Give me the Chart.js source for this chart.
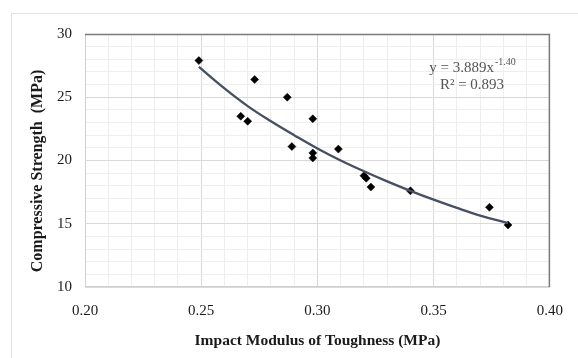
<!DOCTYPE html>
<html>
<head>
<meta charset="utf-8">
<script src="https://cdn.jsdelivr.net/npm/chart.js@4/dist/chart.umd.min.js"></script>
<style>
  html, body { margin: 0; padding: 0; background: #fff; }
  #wrap { width: 578px; height: 358px; position: relative; }
</style>
</head>
<body>
<div id="wrap"><canvas id="chart" width="578" height="358"></canvas></div>
<script>
// measured points (toughness, strength)
const toughness = [0.249, 0.273, 0.267, 0.270, 0.287, 0.298, 0.289, 0.298, 0.298, 0.309, 0.320, 0.321, 0.323, 0.340, 0.374, 0.382];
const strength  = [27.9, 26.4, 23.5, 23.1, 25.0, 23.3, 21.1, 20.6, 20.2, 20.9, 18.8, 18.6, 17.9, 17.6, 16.3, 14.9];

// power trend line
const trendX = [0.249, 0.26, 0.27, 0.28, 0.29, 0.30, 0.31, 0.32, 0.33, 0.34, 0.35, 0.36, 0.37, 0.382];
const trendY = [27.4, 25.7, 24.3, 23.1, 22.0, 20.95, 20.0, 19.15, 18.35, 17.6, 16.9, 16.25, 15.65, 15.05];

const xTickLabels = ['0.20', '0.25', '0.30', '0.35', '0.40'];
const yTickLabels = ['10', '15', '20', '25', '30'];

const xTitle = 'Impact Modulus of Toughness (MPa)';
const yTitle = 'Compressive Strength  (MPa)';
const eqText = 'y = 3.889x';
const eqPower = '-1.40';
const r2Text = 'R² = 0.893';

const serif = '"Liberation Serif", "Times New Roman", serif';

function labelFor(list, v) {
  const hit = list.find(l => Math.abs(parseFloat(l) - v) < 1e-6);
  return hit === undefined ? '' : hit;
}

const frame = {
  id: 'frame',
  beforeDraw(chart) {
    const c = chart.ctx;
    c.save();
    c.strokeStyle = '#e2e2e2';
    c.lineWidth = 1;
    c.strokeRect(11.5, 13.5, 700, 700);
    c.restore();
  },
  afterDatasetsDraw(chart) {
    const { ctx: c, chartArea: a } = chart;
    c.save();
    c.lineWidth = 1;
    c.strokeStyle = '#cfcfcf';
    c.beginPath();
    c.moveTo(a.left + 0.5, a.top);
    c.lineTo(a.left + 0.5, a.bottom - 0.5);
    c.lineTo(a.right, a.bottom - 0.5);
    c.stroke();
    c.strokeStyle = '#7a7a7a';
    c.lineWidth = 1.5;
    c.beginPath();
    c.moveTo(a.left, a.top + 0.5);
    c.lineTo(a.right - 0.5, a.top + 0.5);
    c.lineTo(a.right - 0.5, a.bottom);
    c.stroke();

    // y axis title, sits a little below the centre in the original
    c.fillStyle = '#1a1a1a';
    c.font = 'bold 16px ' + serif;
    c.textAlign = 'center';
    c.textBaseline = 'middle';
    c.translate(38, 171);
    c.rotate(-Math.PI / 2);
    c.fillText(yTitle, 0, 0);
    c.setTransform(1, 0, 0, 1, 0, 0);

    // equation label
    c.fillStyle = '#555';
    c.textBaseline = 'alphabetic';
    c.font = '15px ' + serif;
    const w1 = c.measureText(eqText).width;
    c.font = '10px ' + serif;
    const w2 = c.measureText(eqPower).width;
    const cx = 472;
    let x0 = cx - (w1 + w2) / 2;
    c.font = '15px ' + serif;
    c.textAlign = 'left';
    c.fillText(eqText, x0, 72);
    c.font = '10px ' + serif;
    c.fillText(eqPower, x0 + w1 + 1, 65);
    c.font = '15px ' + serif;
    c.textAlign = 'center';
    c.fillText(r2Text, cx, 89);
    c.restore();
  }
};

const ctx = document.getElementById('chart').getContext('2d');
new Chart(ctx, {
  type: 'scatter',
  data: {
    datasets: [
      {
        label: 'Trend',
        data: trendX.map((x, i) => ({ x, y: trendY[i] })),
        showLine: true,
        borderColor: '#475062',
        borderWidth: 2.4,
        pointRadius: 0,
        tension: 0.4,
        fill: false
      },
      {
        label: 'Data',
        data: toughness.map((x, i) => ({ x, y: strength[i] })),
        pointStyle: 'rectRot',
        pointRadius: 4,
        backgroundColor: '#000',
        borderColor: '#000',
        borderWidth: 0.5
      }
    ]
  },
  options: {
    responsive: false,
    animation: false,
    layout: { padding: { top: 34, right: 21, left: 0, bottom: 0 } },
    plugins: {
      legend: { display: false },
      tooltip: { enabled: false }
    },
    scales: {
      x: {
        type: 'linear',
        min: 0.2,
        max: 0.4,
        afterFit(s) { s.height = 71; },
        border: { display: false },
        grid: {
          drawTicks: false,
          color: c => labelFor(xTickLabels, c.tick.value) ? '#d9d9d9' : '#eeeeee'
        },
        ticks: {
          stepSize: 0.01,
          autoSkip: false,
          maxRotation: 0,
          padding: 15,
          color: '#1a1a1a',
          font: { family: serif, size: 15 },
          callback: v => labelFor(xTickLabels, v)
        },
        title: {
          display: true,
          text: xTitle,
          color: '#1a1a1a',
          font: { family: serif, size: 15.5, weight: 'bold' },
          padding: { top: 0, bottom: 8 }
        }
      },
      y: {
        min: 10,
        max: 30,
        afterFit(s) { s.width = 85; },
        border: { display: false },
        grid: {
          drawTicks: false,
          color: c => labelFor(yTickLabels, c.tick.value) ? '#d9d9d9' : '#eeeeee'
        },
        ticks: {
          stepSize: 1,
          autoSkip: false,
          padding: 13,
          color: '#1a1a1a',
          font: { family: serif, size: 15 },
          callback: v => labelFor(yTickLabels, v)
        }
      }
    }
  },
  plugins: [frame]
});
</script>
</body>
</html>
